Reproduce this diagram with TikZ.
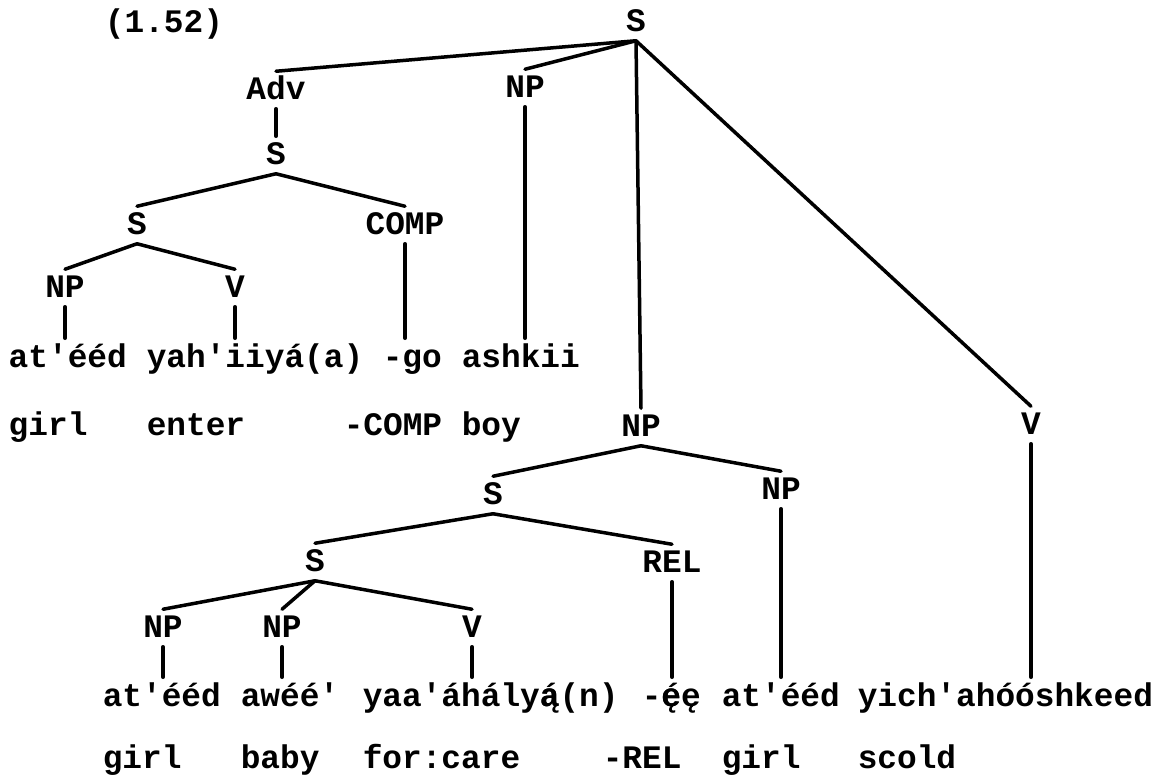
\documentclass[tikz,border=0pt]{standalone}
\usepackage{fontspec}
\setmonofont{Liberation Mono}
\begin{document}
\begin{tikzpicture}[x=1pt,y=-1pt,line width=3.5pt,line cap=round,
  lab/.style={font=\ttfamily\bfseries\fontsize{32.8}{40}\selectfont,text height=18pt,text depth=0pt,inner xsep=0pt,inner ysep=8pt},
  wd/.style={font=\ttfamily\bfseries\fontsize{32.8}{40}\selectfont,anchor=base west,text height=24pt,text depth=0pt,inner xsep=0pt,inner ysep=3pt}]
\useasboundingbox (0,0) rectangle (1163,777);

\node[lab] (num) at (164,23) {(1.52)};
\node[lab] (S0) at (636,22) {S};
\node[lab] (Adv) at (276,90) {Adv};
\node[lab] (NPa) at (525,88) {NP};
\node[lab] (S1) at (276,155) {S};
\node[lab] (S2) at (137,225) {S};
\node[lab] (COMP) at (405,225) {COMP};
\node[lab] (NPb) at (65,288) {NP};
\node[lab] (Vb) at (235,288) {V};
\node[lab] (NPm) at (641,427) {NP};
\node[lab] (Vr) at (1031,425) {V};
\node[lab] (S4) at (493,495) {S};
\node[lab] (NPc) at (781,490) {NP};
\node[lab] (S5) at (315,562) {S};
\node[lab] (REL) at (672,563) {REL};
\node[lab] (NPd) at (163,628) {NP};
\node[lab] (NPe) at (282,628) {NP};
\node[lab] (Vd) at (472,628) {V};

\node[wd] (w1) at (7,367) {at'ééd};
\node[wd] (w2) at (145,367) {yah'iiyá(a)};
\node[wd] (w3) at (381,367) {-go};
\node[wd] (w4) at (460,367) {ashkii};
\node[wd] (g1) at (7,435) {girl};
\node[wd] (g2) at (145,435) {enter};
\node[wd] (g3) at (342,435) {-COMP};
\node[wd] (g4) at (460,435) {boy};

\node[wd] (b1) at (101,706) {at'ééd};
\node[wd] (b2) at (239,706) {awéé'};
\node[wd] (b3) at (361,706) {yaa'áhály\rlap{ą}á(n)};
\node[wd] (b4) at (640,706) {-\rlap{ę}éę};
\node[wd] (b5) at (720,706) {at'ééd};
\node[wd] (b6) at (856,706) {yich'ahóóshkeed};
\node[wd] (c1) at (101,768) {girl};
\node[wd] (c2) at (239,768) {baby};
\node[wd] (c3) at (361,768) {for:care};
\node[wd] (c4) at (601,768) {-REL};
\node[wd] (c5) at (720,768) {girl};
\node[wd] (c6) at (856,768) {scold};

\draw (S0.south) -- (Adv.north);
\draw (S0.south) -- (NPa.north);
\draw (S0.south) -- (NPm.north);
\draw (S0.south) -- (Vr.north);
\draw (Adv.south) -- (S1.north);
\draw (S1.south) -- (S2.north);
\draw (S1.south) -- (COMP.north);
\draw (S2.south) -- (NPb.north);
\draw (S2.south) -- (Vb.north);
\draw (NPb.south) -- (NPb.south |- w1.north);
\draw (Vb.south) -- (Vb.south |- w2.north);
\draw (COMP.south) -- (COMP.south |- w3.north);
\draw (NPa.south) -- (NPa.south |- w4.north);
\draw (NPm.south) -- (S4.north);
\draw (NPm.south) -- (NPc.north);
\draw (S4.south) -- (S5.north);
\draw (S4.south) -- (REL.north);
\draw (S5.south) -- (NPd.north);
\draw (S5.south) -- (NPe.north);
\draw (S5.south) -- (Vd.north);
\draw (NPd.south) -- (NPd.south |- b1.north);
\draw (NPe.south) -- (NPe.south |- b2.north);
\draw (Vd.south) -- (Vd.south |- b3.north);
\draw (REL.south) -- (REL.south |- b4.north);
\draw (NPc.south) -- (NPc.south |- b5.north);
\draw (Vr.south) -- (Vr.south |- b6.north);
\end{tikzpicture}
\end{document}
